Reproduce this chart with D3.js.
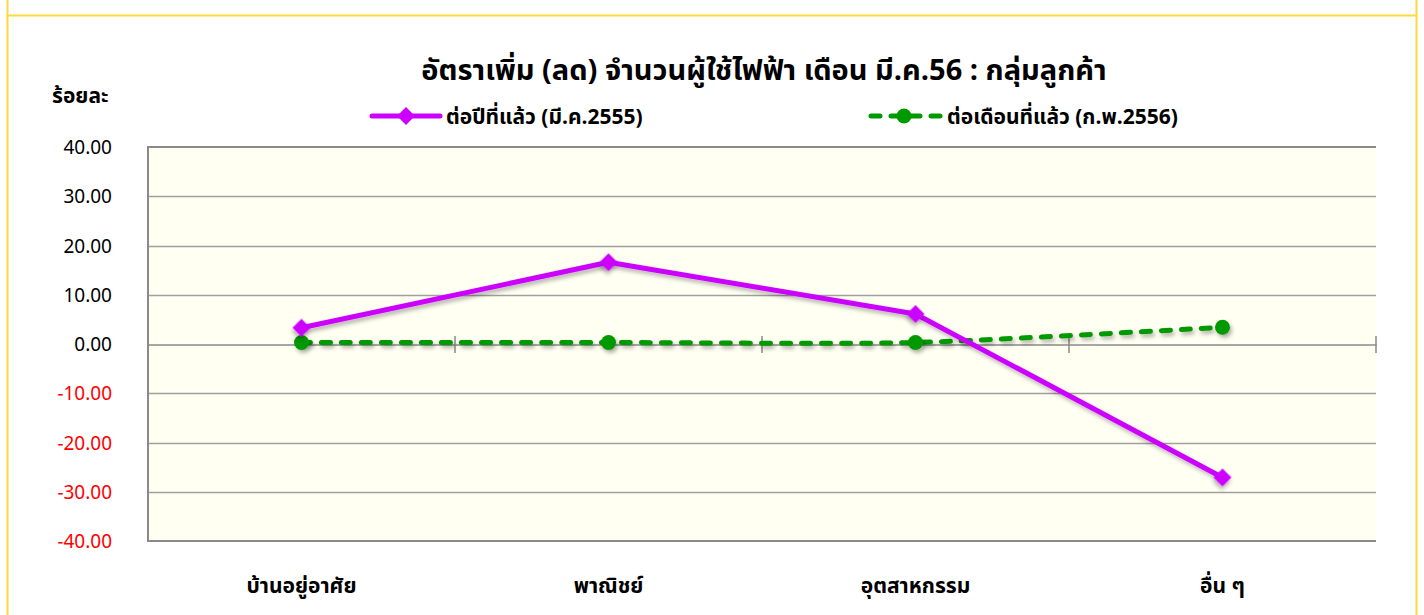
<!DOCTYPE html>
<html>
<head>
<meta charset="utf-8">
<script src="https://cdn.jsdelivr.net/npm/d3@7"></script>
<style>
  html, body { margin: 0; padding: 0; background: #ffffff; }
  svg { display: block; }
  text { font-family: Tahoma, "Noto Sans Thai", "Noto Sans", "DejaVu Sans", sans-serif; }
</style>
</head>
<body>
<svg id="chart" width="1424" height="615"></svg>
<script>
// Customer groups
const categories = ["บ้านอยู่อาศัย", "พาณิชย์", "อุตสาหกรรม", "อื่น ๆ"];
// Growth vs. same month last year (Mar 2012), percent
const yearOnYear = [3.3, 16.6, 6.1, -27.1];
// Growth vs. previous month (Feb 2013), percent
const monthOnMonth = [0.3, 0.3, 0.3, 3.4];
const yTicks = [40, 30, 20, 10, 0, -10, -20, -30, -40];

const seriesNames = ["ต่อปีที่แล้ว (มี.ค.2555)", "ต่อเดือนที่แล้ว (ก.พ.2556)"];
const titleText = "อัตราเพิ่ม (ลด) จำนวนผู้ใช้ไฟฟ้า เดือน มี.ค.56 : กลุ่มลูกค้า";
const yTitle = "ร้อยละ";

const purple = "#cc00ff";
const green = "#009900";

const svg = d3.select("#chart");

// outer frame of the sheet area
const frame = svg.append("g");
frame.append("line").attr("x1", 7).attr("x2", 1416).attr("y1", 15.5).attr("y2", 15.5)
  .attr("stroke", "#ffd83a").attr("stroke-width", 2);
frame.append("line").attr("x1", 7.5).attr("x2", 7.5).attr("y1", 0).attr("y2", 615)
  .attr("stroke", "#ffd83a").attr("stroke-width", 2);
frame.append("line").attr("x1", 1416.5).attr("x2", 1416.5).attr("y1", 0).attr("y2", 615)
  .attr("stroke", "#ffd83a").attr("stroke-width", 2);

const plot = { left: 148, right: 1376, top: 147, bottom: 541 };

const x = d3.scaleBand().domain(categories).range([plot.left, plot.right]);
const y = d3.scaleLinear().domain([-40, 40]).range([plot.bottom, plot.top]);
const cx = d => x(d) + x.bandwidth() / 2;

// drop shadow for markers and lines
const defs = svg.append("defs");
const f = defs.append("filter").attr("id", "shadow").attr("x", "-50%").attr("y", "-50%")
  .attr("width", "200%").attr("height", "200%");
f.append("feDropShadow").attr("dx", 2).attr("dy", 3).attr("stdDeviation", 2)
  .attr("flood-color", "#000").attr("flood-opacity", 0.3);

// plot background
svg.append("rect")
  .attr("x", plot.left).attr("y", plot.top)
  .attr("width", plot.right - plot.left).attr("height", plot.bottom - plot.top)
  .attr("fill", "#fffff2");

// horizontal gridlines
svg.append("g").selectAll("line").data(yTicks.filter(t => t !== 0 && t !== 40 && t !== -40))
  .join("line")
  .attr("x1", plot.left).attr("x2", plot.right)
  .attr("y1", d => Math.round(y(d)) + 0.5).attr("y2", d => Math.round(y(d)) + 0.5)
  .attr("stroke", "#a0a0a0").attr("stroke-width", 1.5);

// plot border: top, bottom, left
const border = svg.append("g").attr("stroke", "#8a8a8a").attr("stroke-width", 2).attr("fill", "none");
border.append("path")
  .attr("d", `M${plot.right},${plot.top} H${plot.left} V${plot.bottom} H${plot.right}`);

// y axis labels
const yAxis = d3.axisLeft(y).tickValues(yTicks).tickFormat(d3.format(".2f")).tickSize(0).tickPadding(0);
const yg = svg.append("g").attr("transform", `translate(112,0)`).call(yAxis);
yg.select(".domain").remove();
yg.selectAll("text")
  .attr("font-size", 19)
  .attr("dy", "0.35em")
  .attr("fill", d => d < 0 ? "#ff0000" : "#000000");

// category axis drawn on the zero line
const xAxis = d3.axisBottom(x).tickSize(0).tickFormat("");
const xg = svg.append("g").attr("transform", `translate(0,${Math.round(y(0)) + 0.5})`).call(xAxis);
xg.select(".domain").attr("stroke", "#8a8a8a").attr("stroke-width", 1.5);
xg.selectAll(".tick").remove();
// category boundary tick marks crossing the zero line
svg.append("g").selectAll("line").data(categories)
  .join("line")
  .attr("x1", d => x(d) + x.bandwidth()).attr("x2", d => x(d) + x.bandwidth())
  .attr("y1", y(0) - 8).attr("y2", y(0) + 9)
  .attr("stroke", "#8a8a8a").attr("stroke-width", 1.5);

// category labels below the plot
svg.append("g").selectAll("text").data(categories)
  .join("text")
  .attr("x", d => cx(d)).attr("y", 593)
  .attr("text-anchor", "middle")
  .attr("font-size", 21).attr("font-weight", "bold")
  .text(d => d);

// series lines
const lineStraight = d3.line().x((d, i) => cx(categories[i])).y(d => y(d));
const lineSmooth = d3.line().x((d, i) => cx(categories[i])).y(d => y(d)).curve(d3.curveCardinal.tension(0.3));

svg.append("path").datum(monthOnMonth)
  .attr("d", lineSmooth)
  .attr("fill", "none").attr("stroke", green).attr("stroke-width", 5)
  .attr("stroke-dasharray", "9 11").attr("stroke-linecap", "round")
  .attr("filter", "url(#shadow)");

svg.append("path").datum(yearOnYear)
  .attr("d", lineStraight)
  .attr("fill", "none").attr("stroke", purple).attr("stroke-width", 5)
  .attr("stroke-linejoin", "round")
  .attr("filter", "url(#shadow)");

// markers: circles for the monthly series, square diamonds for the yearly one
const diamond = d3.symbol().type(d3.symbolSquare).size(160);
svg.append("g").selectAll("circle").data(monthOnMonth)
  .join("circle")
  .attr("cx", (d, i) => cx(categories[i])).attr("cy", d => y(d))
  .attr("r", 7.5).attr("fill", green)
  .attr("filter", "url(#shadow)");

svg.append("g").selectAll("path").data(yearOnYear)
  .join("path")
  .attr("d", diamond)
  .attr("transform", (d, i) => `translate(${cx(categories[i])},${y(d)}) rotate(45)`)
  .attr("fill", purple)
  .attr("filter", "url(#shadow)");

// title
svg.append("text")
  .attr("x", 764).attr("y", 80)
  .attr("text-anchor", "middle")
  .attr("font-size", 29).attr("font-weight", "bold")
  .text(titleText);

// y axis title
svg.append("text")
  .attr("x", 52).attr("y", 103)
  .attr("font-size", 21).attr("font-weight", "bold")
  .text(yTitle);

// legend
const legend = svg.append("g");
legend.append("line").attr("x1", 372).attr("x2", 440).attr("y1", 116).attr("y2", 116)
  .attr("stroke", purple).attr("stroke-width", 5).attr("stroke-linecap", "round");
legend.append("path").attr("d", diamond).attr("transform", "translate(406,116) rotate(45)").attr("fill", purple);
legend.append("text").attr("x", 446).attr("y", 124)
  .attr("font-size", 21).attr("font-weight", "bold").text(seriesNames[0]);

legend.append("line").attr("x1", 871).attr("x2", 945).attr("y1", 116).attr("y2", 116)
  .attr("stroke", green).attr("stroke-width", 5).attr("stroke-linecap", "round")
  .attr("stroke-dasharray", "9 11");
legend.append("circle").attr("cx", 904).attr("cy", 116).attr("r", 7.5).attr("fill", green);
legend.append("text").attr("x", 947).attr("y", 124)
  .attr("font-size", 21).attr("font-weight", "bold").text(seriesNames[1]);
</script>
</body>
</html>
